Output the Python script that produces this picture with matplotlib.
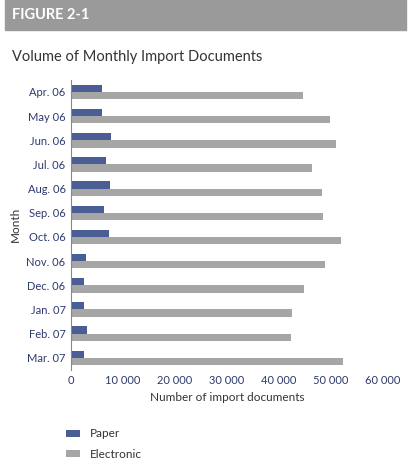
import matplotlib.pyplot as plt
import numpy as np
from matplotlib.patches import Rectangle

months = ['Apr. 06', 'May 06', 'Jun. 06', 'Jul. 06', 'Aug. 06', 'Sep. 06',
          'Oct. 06', 'Nov. 06', 'Dec. 06', 'Jan. 07', 'Feb. 07', 'Mar. 07']
paper = [6000, 6000, 7700, 6700, 7500, 6300, 7300, 2900, 2500, 2500, 3100, 2500]
electronic = [44600, 49800, 51000, 46300, 48300, 48500, 51900, 48800, 44800, 42500, 42300, 52300]

plt.rcParams['font.family'] = ['Lato', 'DejaVu Sans']
blue = '#4a5d94'
grey = '#a6a6a6'
txt = '#2d3a6e'

fig = plt.figure(figsize=(4.11, 4.67), dpi=100)
fig.patches.append(Rectangle((0.012, 0.935), 0.976, 0.065, transform=fig.transFigure,
                             color='#9a9a9a', zorder=0))
fig.text(0.03, 0.967, 'FIGURE 2-1', color='white', fontsize=10.5, weight='bold', va='center')
fig.text(0.03, 0.877, 'Volume of Monthly Import Documents', color='#333333', fontsize=10.5, va='center')

ax = fig.add_axes([0.173, 0.208, 0.759, 0.621])
y = np.arange(len(months))
h = 0.3
ax.barh(y - h / 2, paper, height=h, color=blue, label='Paper')
ax.barh(y + h / 2, electronic, height=h, color=grey, label='Electronic')
ax.set_ylim(len(months) - 0.5, -0.5)
ax.set_xlim(0, 60000)
ax.set_yticks(y)
ax.set_yticklabels(months, color=txt, fontsize=8)
ticks = np.arange(0, 60001, 10000)
ax.set_xticks(ticks)
ax.set_xticklabels([f'{t:,}'.replace(',', ' ') for t in ticks], color=txt, fontsize=8)
ax.tick_params(length=0, pad=4)
for s in ['top', 'right', 'bottom']:
    ax.spines[s].set_visible(False)
ax.spines['left'].set_color('#888888')
ax.set_xlabel('Number of import documents', color='#333333', fontsize=8.5)
ax.set_ylabel('Month', color='#333333', fontsize=8.5)
ax.legend(loc='upper left', bbox_to_anchor=(-0.05, -0.165), frameon=False,
          fontsize=8.5, handlelength=1.2, handleheight=0.5, labelspacing=0.8,
          labelcolor='#333333')

fig.savefig('out.png', dpi=100)
